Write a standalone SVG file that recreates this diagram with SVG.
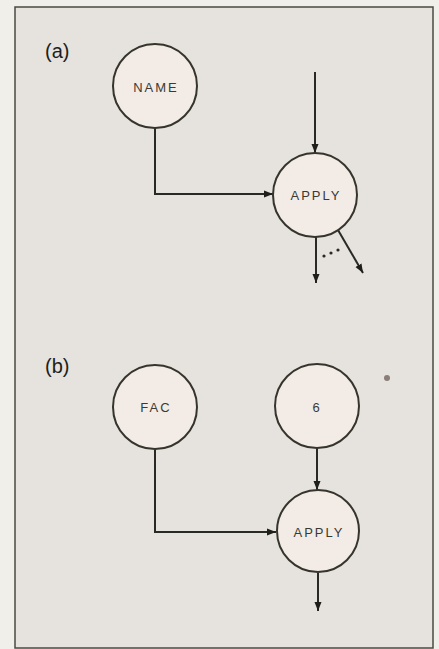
<svg xmlns="http://www.w3.org/2000/svg" width="439" height="649" viewBox="0 0 439 649">
<style>
.node circle{fill:#f3ebe6;stroke:#35352c;stroke-width:2}
.node text{font-family:"Liberation Sans",Arial,sans-serif;font-size:13px;fill:#3a3a32;text-anchor:middle;letter-spacing:2px}
.lbl{font-family:"Liberation Sans",Arial,sans-serif;font-size:20px;fill:#1e1e1a}
.conn{fill:none;stroke:#2a2a24;stroke-width:2}
</style>
<defs>
<marker id="ah" markerWidth="10" markerHeight="8" refX="9" refY="4" orient="auto" markerUnits="userSpaceOnUse">
<path d="M0,0.5 L9,4 L0,7.5 Z" fill="#1e1e1a"/>
</marker>
</defs>
<rect x="0" y="0" width="439" height="649" fill="#f0efea"/>
<rect x="15" y="7" width="418" height="641" fill="#e6e2de" stroke="#4a4a42" stroke-width="1.5"/>
<text class="lbl" x="45" y="58">(a)</text>
<text class="lbl" x="45" y="373">(b)</text>
<g id="connectors">
<path class="conn" d="M155,128 V194 H273" marker-end="url(#ah)"/>
<path class="conn" d="M315,72 V153" marker-end="url(#ah)"/>
<path class="conn" d="M316,237 V283" marker-end="url(#ah)"/>
<path class="conn" d="M338,230 L363,273" marker-end="url(#ah)"/>
<path class="conn" d="M155,449 V532 H276" marker-end="url(#ah)"/>
<path class="conn" d="M317,448 V490" marker-end="url(#ah)"/>
<path class="conn" d="M318,573 V611" marker-end="url(#ah)"/>
</g>
<g id="dots" fill="#2a2a24">
<circle cx="324" cy="256" r="1.6"/>
<circle cx="331" cy="253" r="1.6"/>
<circle cx="338" cy="250" r="1.6"/>
</g>
<g id="node-name" class="node"><circle cx="155" cy="86" r="42"/><text x="156" y="92">NAME</text></g>
<g id="node-apply-a" class="node"><circle cx="315" cy="195" r="42"/><text x="316" y="200">APPLY</text></g>
<g id="node-fac" class="node"><circle cx="155" cy="407" r="42"/><text x="156" y="412">FAC</text></g>
<g id="node-6" class="node"><circle cx="317" cy="406" r="42"/><text x="317" y="412">6</text></g>
<g id="node-apply-b" class="node"><circle cx="318" cy="531" r="41"/><text x="319" y="537">APPLY</text></g>
<circle cx="387" cy="378" r="3" fill="#8a7e78"/>
</svg>
